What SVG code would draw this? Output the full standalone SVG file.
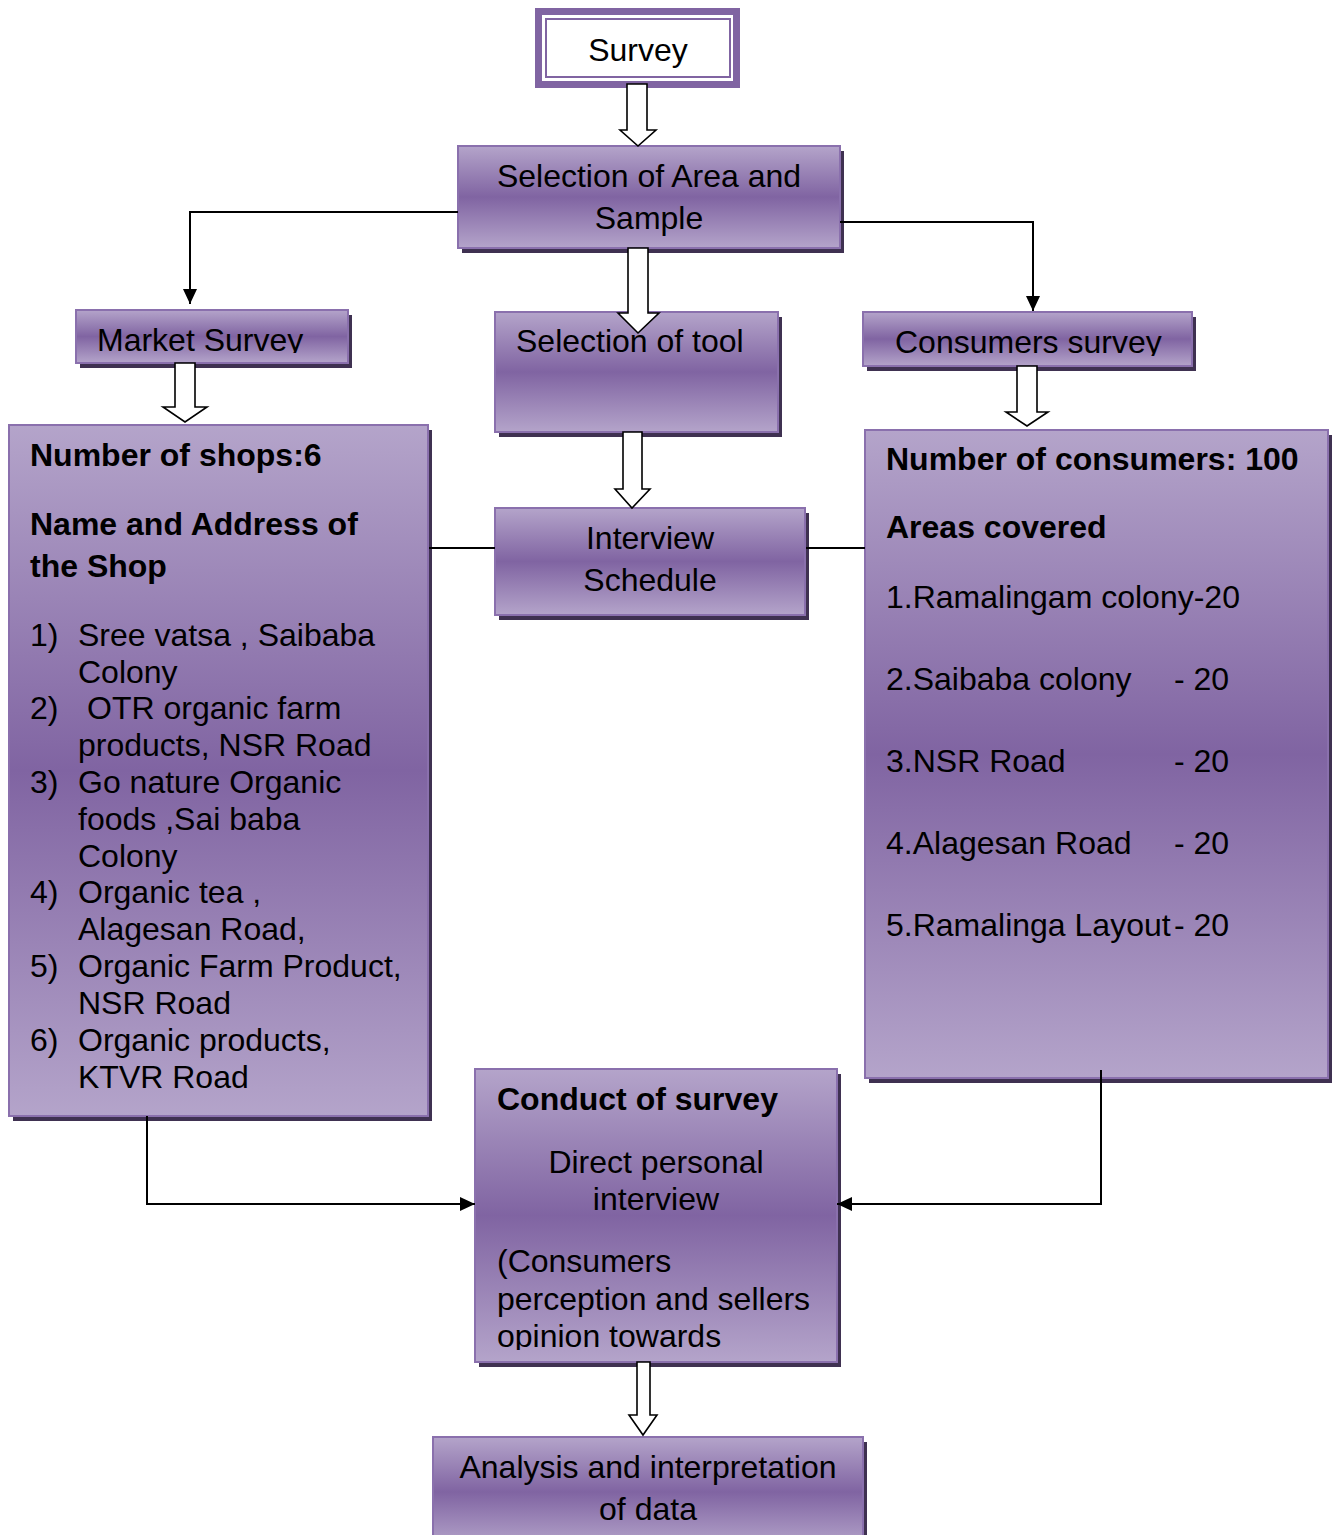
<svg xmlns="http://www.w3.org/2000/svg" width="1335" height="1535" viewBox="0 0 1335 1535">
<style>
text{font-family:"Liberation Sans",Arial,sans-serif;font-size:32px;fill:#000}
.b{font-weight:bold}
.c{text-anchor:middle}
.box{fill:url(#g);stroke:#8a70ad;stroke-width:2}
.sh{fill:#3f3151}
.conn{fill:none;stroke:#000;stroke-width:2}
.blk{fill:#fff;stroke:#000;stroke-width:1.6;stroke-linejoin:miter}
</style>
<defs>
<linearGradient id="g" x1="0" y1="0" x2="0" y2="1">
<stop offset="0" stop-color="#b4a4ca"/>
<stop offset="0.5" stop-color="#8064a2"/>
<stop offset="1" stop-color="#b4a4ca"/>
</linearGradient>
<marker id="ah" markerUnits="userSpaceOnUse" markerWidth="16" markerHeight="14" refX="15" refY="7" orient="auto">
<path d="M0,0 L15,7 L0,14 z" fill="#000"/>
</marker>
<clipPath id="cm"><rect x="76" y="310" width="272" height="43"/></clipPath>
<clipPath id="cc"><rect x="863" y="312" width="329" height="44"/></clipPath>
<clipPath id="cd"><rect x="475" y="1069" width="362" height="281"/></clipPath>
</defs>
<rect width="1335" height="1535" fill="#fff"/>

<g id="survey">
<rect x="538.5" y="11.5" width="198" height="73" fill="#fff" stroke="#8064a2" stroke-width="7"/>
<rect x="546" y="19" width="184" height="58" fill="#fff" stroke="#8064a2" stroke-width="2"/>
<text class="c" x="638" y="61">Survey</text>
</g>

<g id="selection-area">
<rect class="sh" x="462" y="151" width="382" height="102"/>
<rect class="box" x="458" y="146" width="382" height="102"/>
<text class="c" x="649" y="187">Selection of Area and</text>
<text class="c" x="649" y="229">Sample</text>
</g>

<g id="market-survey">
<rect class="sh" x="80" y="315" width="272" height="53"/>
<rect class="box" x="76" y="310" width="272" height="53"/>
<text x="97" y="351" clip-path="url(#cm)">Market Survey</text>
</g>

<g id="selection-tool">
<rect class="sh" x="499" y="317" width="283" height="120"/>
<rect class="box" x="495" y="312" width="283" height="120"/>
<text x="516" y="352">Selection of tool</text>
</g>

<g id="consumers-survey">
<rect class="sh" x="867" y="317" width="329" height="54"/>
<rect class="box" x="863" y="312" width="329" height="54"/>
<text x="895" y="353" clip-path="url(#cc)">Consumers survey</text>
</g>

<g id="shops">
<rect class="sh" x="13" y="430" width="419" height="691"/>
<rect class="box" x="9" y="425" width="419" height="691"/>
<text class="b" x="30" y="466">Number of shops:6</text>
<text class="b" x="30" y="535">Name and Address of</text>
<text class="b" x="30" y="577">the Shop</text>
<text x="30" y="646">1)</text><text x="78" y="646">Sree vatsa , Saibaba</text>
<text x="78" y="683">Colony</text>
<text x="30" y="719">2)</text><text x="87" y="719">OTR organic farm</text>
<text x="78" y="756">products, NSR Road</text>
<text x="30" y="793">3)</text><text x="78" y="793">Go nature Organic</text>
<text x="78" y="830">foods ,Sai baba</text>
<text x="78" y="867">Colony</text>
<text x="30" y="903">4)</text><text x="78" y="903">Organic tea ,</text>
<text x="78" y="940">Alagesan Road,</text>
<text x="30" y="977">5)</text><text x="78" y="977">Organic Farm Product,</text>
<text x="78" y="1014">NSR Road</text>
<text x="30" y="1051">6)</text><text x="78" y="1051">Organic products,</text>
<text x="78" y="1088">KTVR Road</text>
</g>

<g id="interview">
<rect class="sh" x="499" y="513" width="310" height="107"/>
<rect class="box" x="495" y="508" width="310" height="107"/>
<text class="c" x="650" y="549">Interview</text>
<text class="c" x="650" y="591">Schedule</text>
</g>

<g id="consumers">
<rect class="sh" x="869" y="435" width="463" height="648"/>
<rect class="box" x="865" y="430" width="463" height="648"/>
<text class="b" x="886" y="470">Number of consumers: 100</text>
<text class="b" x="886" y="538">Areas covered</text>
<text x="886" y="608">1.Ramalingam colony-20</text>
<text x="886" y="690">2.Saibaba colony</text><text x="1174" y="690">- 20</text>
<text x="886" y="772">3.NSR Road</text><text x="1174" y="772">- 20</text>
<text x="886" y="854">4.Alagesan Road</text><text x="1174" y="854">- 20</text>
<text x="886" y="936">5.Ramalinga Layout</text><text x="1174" y="936">- 20</text>
</g>

<g id="conduct">
<rect class="sh" x="479" y="1074" width="362" height="293"/>
<rect class="box" x="475" y="1069" width="362" height="293"/>
<g clip-path="url(#cd)">
<text class="b" x="497" y="1110">Conduct of survey</text>
<text class="c" x="656" y="1173">Direct personal</text>
<text class="c" x="656" y="1210">interview</text>
<text x="497" y="1272">(Consumers</text>
<text x="497" y="1310">perception and sellers</text>
<text x="497" y="1347">opinion towards</text>
</g>
</g>

<g id="analysis">
<rect class="sh" x="437" y="1442" width="430" height="110"/>
<rect class="box" x="433" y="1437" width="430" height="110"/>
<text class="c" x="648" y="1478">Analysis and interpretation</text>
<text class="c" x="648" y="1520">of data</text>
</g>

<g id="connectors">
<path class="conn" d="M458,212 H190 V304" marker-end="url(#ah)"/>
<path class="conn" d="M840,222 H1033 V311" marker-end="url(#ah)"/>
<path class="conn" d="M429,548 H495"/>
<path class="conn" d="M806,548 H865"/>
<path class="conn" d="M147,1116 V1204 H475" marker-end="url(#ah)"/>
<path class="conn" d="M1101,1070 V1204 H837" marker-end="url(#ah)"/>
</g>

<g id="block-arrows">
<polygon class="blk" points="627,84 647,84 647,130 656,130 638,146 620,130 627,130"/>
<polygon class="blk" points="628,248 648,248 648,313 659,313 638,333 618,313 628,313"/>
<polygon class="blk" points="175,363 195,363 195,407 207,407 185,422 163,407 175,407"/>
<polygon class="blk" points="623,432 642,432 642,489 650,489 632,508 615,489 623,489"/>
<polygon class="blk" points="1017,366 1037,366 1037,412 1048,412 1027,426 1006,412 1017,412"/>
<polygon class="blk" points="637,1362 650,1362 650,1415 657,1415 643,1435 629,1415 637,1415"/>
</g>
</svg>
